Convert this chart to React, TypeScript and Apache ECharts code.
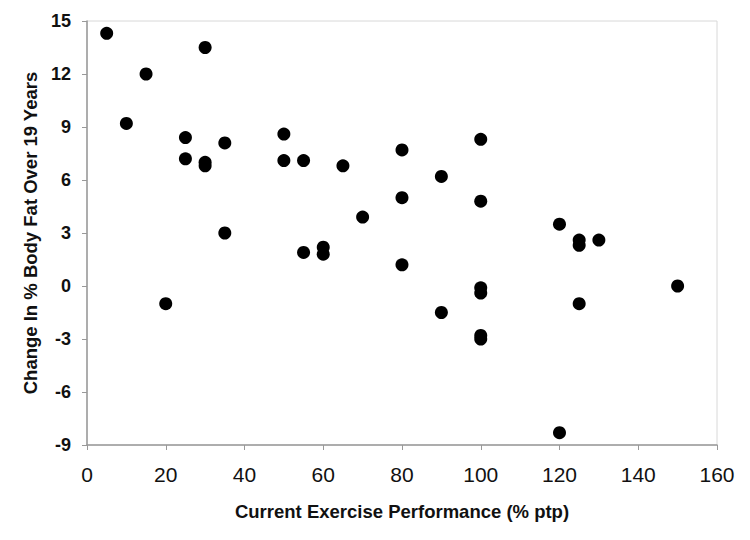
import React, { useEffect, useRef } from "react";
import * as echarts from "echarts";

const exercise = [5, 10, 15, 20, 25, 25, 30, 30, 30, 35, 35, 50, 50, 55, 55, 60, 60, 65, 70, 80, 80, 80, 90, 90, 100, 100, 100, 100, 100, 100, 120, 120, 125, 125, 125, 130, 150];
const fatChange = [14.3, 9.2, 12.0, -1.0, 8.4, 7.2, 13.5, 7.0, 6.8, 8.1, 3.0, 8.6, 7.1, 7.1, 1.9, 2.2, 1.8, 6.8, 3.9, 7.7, 5.0, 1.2, 6.2, -1.5, 8.3, 4.8, -0.1, -0.4, -2.8, -3.0, 3.5, -8.3, 2.6, 2.3, -1.0, 2.6, 0.0];

const xTitle = "Current Exercise Performance (% ptp)";
const yTitle = "Change In % Body Fat Over 19 Years";

export default function App() {
  const ref = useRef<HTMLDivElement>(null);
  useEffect(() => {
    if (!ref.current) return;
    const chart = echarts.init(ref.current, null, { renderer: "svg" });
    const data = exercise.map((x, i) => [x, fatChange[i]]);
    const font = "'Liberation Sans', Arial, sans-serif";
    chart.setOption({
      animation: false,
      backgroundColor: "#ffffff",
      grid: {
        left: 87,
        top: 21,
        right: 33,
        bottom: 95,
        show: true,
        borderColor: "#d8d8d8",
        borderWidth: 1,
      },
      xAxis: {
        type: "value",
        min: 0,
        max: 160,
        interval: 20,
        name: xTitle,
        nameLocation: "middle",
        nameGap: 57,
        nameTextStyle: { fontFamily: font, fontWeight: "bold", fontSize: 18.5, color: "#111" },
        axisLine: { show: true, onZero: false, lineStyle: { color: "#999", width: 1.5 } },
        axisTick: { show: true, length: 5, lineStyle: { color: "#999" } },
        axisLabel: { fontFamily: font, fontSize: 21, color: "#111", margin: 19 },
        splitLine: { show: false },
      },
      yAxis: {
        type: "value",
        min: -9,
        max: 15,
        interval: 3,
        name: yTitle,
        nameLocation: "middle",
        nameGap: 47,
        nameRotate: 90,
        nameTextStyle: { fontFamily: font, fontWeight: "bold", fontSize: 18.5, color: "#111" },
        axisLine: { show: true, onZero: false, lineStyle: { color: "#999", width: 1.5 } },
        axisTick: { show: true, length: 5, lineStyle: { color: "#999" } },
        axisLabel: { fontFamily: font, fontSize: 18, fontWeight: "bold", color: "#111", margin: 16 },
        splitLine: { show: false },
      },
      series: [
        {
          type: "scatter",
          data,
          symbol: "circle",
          symbolSize: 13,
          itemStyle: { color: "#000000", opacity: 1 },
        },
      ],
    });
    return () => chart.dispose();
  }, []);
  return (
    <div
      ref={ref}
      style={{ position: "absolute", left: 0, top: 0, width: 750, height: 540 }}
    />
  );
}
